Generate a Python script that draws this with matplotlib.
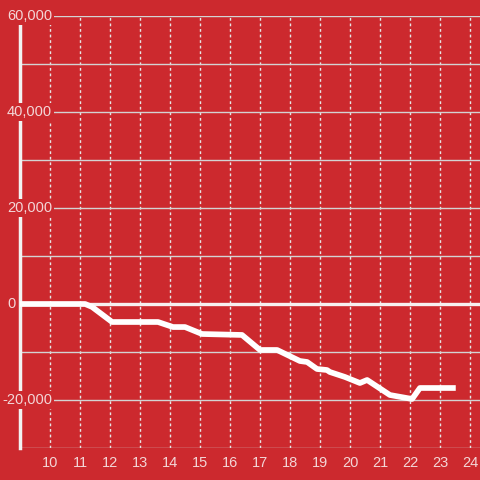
import matplotlib
matplotlib.use("Agg")
import matplotlib.pyplot as plt
from matplotlib.transforms import offset_copy

bg = '#cc292e'
txt = '#f3d6d7'
plt.rcParams['font.family'] = ['Liberation Sans', 'DejaVu Sans']

# values (hour of day, value)
hours = [9.0, 11.17, 11.4, 12.07, 13.6, 14.1, 14.5, 15.07, 16.4, 17.0, 17.57,
         18.33, 18.57, 18.9, 19.23, 19.33, 19.83, 20.33, 20.57, 21.33, 22.07,
         22.33, 23.43]
values = [0, 0, -600, -3750, -3750, -4800, -4800, -6250, -6450, -9580, -9580,
          -11875, -12080, -13540, -13750, -14170, -15200, -16460, -15830,
          -18960, -19790, -17500, -17500]
x_ticks = list(range(10, 25))
y_ticks = [-20000, 0, 20000, 40000, 60000]
y_labels = ['-20,000', '0', '20,000', '40,000', '60,000']

fig = plt.figure(figsize=(4.8, 4.8), dpi=100, facecolor=bg)
ax = fig.add_axes([20 / 480, 32 / 480, 460 / 480, 432 / 480], facecolor=bg)

ax.set_xlim(9.0, 24.333)
ax.set_ylim(-30000, 60000)
ax.set_axisbelow(True)

ax.set_xticks(x_ticks)
ax.set_xticklabels([str(t) for t in x_ticks], color=txt, fontsize=10.5)
ax.set_yticks(range(-30000, 60001, 10000))
ax.set_yticklabels([])
ax.tick_params(length=0)
ax.tick_params(axis='x', pad=6)
ax.yaxis.grid(True, color='#d3d3d3', lw=1, ls='-')
ax.xaxis.grid(True, color='#e6e6e6', lw=1, ls=(0, (2, 2)))

for side in ['top', 'right', 'bottom']:
    ax.spines[side].set_visible(False)
ax.spines['left'].set_color('#f2f2f2')
ax.spines['left'].set_linewidth(2.5)

ax.axhline(0, color='#f7f0f0', lw=2.4, zorder=2.6)
ax.plot(hours, values, color='white', lw=4.1, zorder=3, solid_joinstyle='round')

for v, lab in zip(y_ticks, y_labels):
    shift = -18 if lab.startswith('-') else -13
    tr = offset_copy(ax.get_yaxis_transform(), fig=fig, x=shift, y=0, units='dots')
    ax.text(0, v, lab, color=txt, fontsize=10.5, transform=tr,
            ha='left', va='center', zorder=5, clip_on=False,
            bbox=dict(boxstyle='square,pad=0.15', fc=bg, ec='none'))

fig.savefig('out.png', dpi=100, facecolor=bg)
